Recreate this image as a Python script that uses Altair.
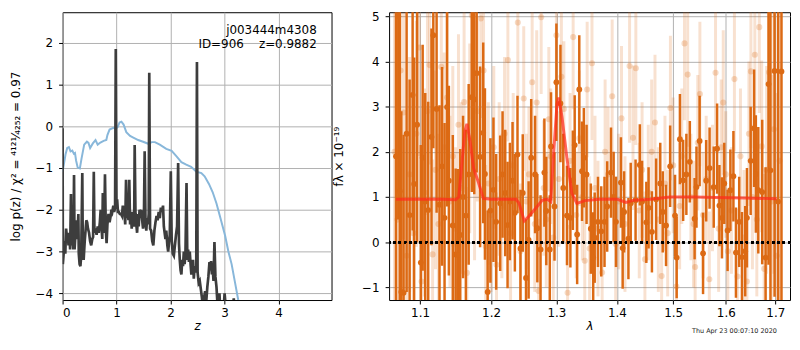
import altair as alt
import pandas as pd

# ---------------- left panel : redshift probability ----------------
z_prior = [0.0, 0.055, 0.086, 0.117, 0.147, 0.18, 0.21, 0.23, 0.25, 0.28, 0.32, 0.35, 0.40, 0.45,
           0.48, 0.51, 0.56, 0.61, 0.65, 0.70, 0.76, 0.81, 0.83, 0.87, 0.94, 0.98, 1.02, 1.055,
           1.09, 1.13, 1.18, 1.25, 1.31, 1.40, 1.49, 1.59, 1.65, 1.71, 1.80, 1.92, 2.02, 2.11,
           2.20, 2.29, 2.38, 2.48, 2.57, 2.63, 2.71, 2.78, 2.85, 2.93, 3.01, 3.07, 3.13, 3.19,
           3.25, 3.30]
lnp_prior = [-1.09, -0.67, -0.52, -0.50, -0.60, -0.58, -0.66, -0.64, -0.82, -0.99, -1.01, -0.78,
             -0.44, -0.37, -0.40, -0.52, -0.41, -0.33, -0.44, -0.39, -0.35, -0.33, -0.21, -0.08,
             -0.04, -0.06, -0.02, 0.09, 0.11, 0.04, -0.14, -0.23, -0.27, -0.33, -0.37, -0.42,
             -0.38, -0.38, -0.44, -0.54, -0.59, -0.72, -0.86, -0.92, -0.97, -1.09, -1.12, -1.20,
             -1.38, -1.58, -1.85, -2.23, -2.62, -3.00, -3.30, -3.72, -4.14, -4.45]

z_pdf = [0.000, 0.005, 0.02, 0.035, 0.05, 0.065, 0.08, 0.095, 0.11, 0.125,
         0.14, 0.155, 0.165, 0.18, 0.20, 0.212, 0.222, 0.235, 0.25, 0.265,
         0.28, 0.292, 0.30, 0.315, 0.33, 0.345, 0.365, 0.375, 0.39, 0.41,
         0.425, 0.44, 0.455, 0.47, 0.49, 0.51, 0.53, 0.55, 0.565, 0.578,
         0.59, 0.61, 0.63, 0.65, 0.67, 0.69, 0.705, 0.72, 0.735, 0.745,
         0.755, 0.77, 0.785, 0.80, 0.815, 0.83, 0.85, 0.87, 0.89, 0.905,
         0.92, 0.94, 0.955, 0.972, 0.985, 0.998, 1.01, 1.025, 1.04, 1.06,
         1.08, 1.10, 1.115, 1.13, 1.145, 1.16, 1.175, 1.19, 1.205, 1.22,
         1.235, 1.25, 1.265, 1.28, 1.295, 1.31, 1.325, 1.335, 1.35, 1.365,
         1.38, 1.395, 1.41, 1.425, 1.44, 1.455, 1.47, 1.49, 1.505, 1.52,
         1.535, 1.55, 1.565, 1.58, 1.595, 1.605, 1.62, 1.64, 1.66, 1.68,
         1.70, 1.72, 1.74, 1.76, 1.78, 1.80, 1.82, 1.84, 1.86, 1.875,
         1.89, 1.905, 1.92, 1.94, 1.955, 1.97, 1.985, 2.004, 2.02, 2.04,
         2.06, 2.08, 2.10, 2.12, 2.14, 2.155, 2.17, 2.185, 2.20, 2.215,
         2.23, 2.245, 2.26, 2.275, 2.295, 2.31, 2.325, 2.34, 2.355, 2.37,
         2.385, 2.40, 2.415, 2.43, 2.445, 2.46, 2.475, 2.488, 2.50, 2.52,
         2.54, 2.56, 2.58, 2.60, 2.62, 2.64, 2.66, 2.68, 2.70, 2.72,
         2.735, 2.75, 2.765, 2.78, 2.795, 2.812, 2.83, 2.85, 2.87, 2.89,
         2.905, 2.92, 2.95, 2.98, 3.00, 3.02, 3.06, 3.10, 3.15, 3.17,
         3.19]
lnp_pdf = [-0.05, -3.30, -3.05, -2.75, -3.05, -2.45, -2.65, -2.55, -2.85, -2.55,
           -2.95, -1.62, -2.85, -2.55, -2.95, -1.17, -2.95, -2.65, -2.25, -2.70,
           -2.50, -2.10, -3.05, -3.30, -3.35, -3.10, -1.12, -3.05, -3.20, -2.75,
           -2.50, -2.25, -2.30, -2.45, -2.55, -2.75, -2.85, -2.70, -2.65, -1.09,
           -2.55, -2.45, -2.60, -2.40, -2.55, -2.30, -2.00, -2.40, -2.70, -1.60,
           -2.45, -2.55, -1.15, -2.45, -2.80, -2.35, -2.10, -2.30, -2.15, -2.00,
           -2.05, -1.90, -2.05, -1.95, 1.85, -1.95, -1.75, -2.05, -2.05, -2.10,
           -2.10, -2.15, -1.90, -2.15, -2.05, -2.35, -1.28, -2.20, -1.95, -2.25,
           -1.28, -2.35, -2.05, -2.45, -2.05, -2.30, -2.40, -0.45, -2.10, -2.35,
           -2.55, -2.10, -2.40, -2.00, -2.15, -2.00, -2.20, -2.45, -2.30, -0.60,
           -2.25, -2.50, -2.20, -2.35, -2.10, 1.28, -2.45, -2.50, -2.75, -2.85,
           -2.50, -2.30, -2.15, -2.25, -2.05, -2.20, -1.95, -2.05, -1.90, -2.40,
           -2.55, -2.70, -2.50, -2.85, -3.00, -2.80, -2.60, -1.08, -2.70, -3.05,
           -3.10, -2.85, -2.60, -2.40, -0.88, -2.80, -3.20, -3.45, -3.55, -3.20,
           -3.35, -3.00, -3.30, -3.05, -1.36, -3.20, -2.95, -3.25, -3.00, -3.30,
           -3.55, -3.45, -3.20, -3.65, -3.35, -3.50, -3.40, 1.54, -3.50, -3.75,
           -3.70, -3.90, -4.10, -4.35, -4.10, -3.95, -4.20, -3.85, -3.60, -3.25,
           -3.45, -3.23, -3.55, -3.40, -3.70, -2.77, -3.60, -3.85, -4.30, -4.50,
           -4.00, -4.40, -4.70, -4.40, -4.00, -4.30, -4.70, -4.50, -4.40, -4.12,
           -4.50]

ann_text = ["j003444m4308", "ID=906\u00a0\u00a0\u00a0\u00a0z=0.9882"]
ann_z = [4.706, 4.706]
ann_v = [2.31, 1.96]

z_ticks = [0, 1, 2, 3, 4]
lnp_ticks = [-4, -3, -2, -1, 0, 1, 2]

# ---------------- right panel : spectrum ----------------
lam_dark = [1.068, 1.071, 1.073, 1.075, 1.078, 1.082, 1.086, 1.090, 1.092, 1.096,
            1.101, 1.1035, 1.107, 1.111, 1.1155, 1.118, 1.1225, 1.1265, 1.130, 1.1335,
            1.137, 1.1395, 1.145, 1.149, 1.152, 1.1555, 1.1595, 1.1635, 1.1675, 1.172,
            1.1755, 1.179, 1.184, 1.1885, 1.191, 1.195, 1.199, 1.2035, 1.2075, 1.2135,
            1.217, 1.221, 1.2245, 1.228, 1.232, 1.2355, 1.2395, 1.244, 1.2475, 1.2525,
            1.2565, 1.2605, 1.2665, 1.270, 1.275, 1.281, 1.284, 1.2895, 1.2915, 1.297,
            1.300, 1.3065, 1.311, 1.317, 1.3225, 1.3265, 1.3295, 1.3335, 1.337, 1.3415,
            1.3445, 1.349, 1.356, 1.360, 1.3625, 1.368, 1.3735, 1.379, 1.3835, 1.390,
            1.3945, 1.3985, 1.407, 1.410, 1.4125, 1.420, 1.424, 1.4325, 1.440, 1.444,
            1.4515, 1.4555, 1.4615, 1.469, 1.4765, 1.481, 1.487, 1.4945, 1.5035, 1.5065,
            1.5125, 1.5185, 1.5245, 1.531, 1.540, 1.5435, 1.5495, 1.556, 1.562, 1.5685,
            1.5765, 1.583, 1.5875, 1.5925, 1.597, 1.6035, 1.609, 1.615, 1.620, 1.6265,
            1.632, 1.6385, 1.642, 1.6495, 1.6565, 1.660, 1.665, 1.673, 1.680, 1.686,
            1.690, 1.6985, 1.706, 1.713]
flux_dark = [1.9, 5.0, 1.13, -1.1, -1.12, 2.4, 0.6, 3.26, 1.29, 2.6,
             -0.45, 1.87, 0.9, 0.71, 2.33, 4.58, 2.95, 0.83, 1.68, 0.54,
             2.99, 1.36, 0.37, -0.27, -0.28, 0.16, 1.0, 0.59, 1.50, 3.21,
             3.16, 3.74, 1.89, 2.42, 1.51, -1.10, 0.7, 1.16, 0.45, 0.86,
             1.5, 1.09, 0.38, 0.9, 1.36, 0.65, 1.94, -0.14, 1.09, -0.79,
             0.05, 1.87, 1.50, 0.31, -0.16, 1.54, 0.69, -0.16, 2.12, 0.79,
             3.54, 3.07, 1.2, 0.59, 0.54, 1.37, 2.15, 0.17, 3.38, 1.57,
             1.87, 1.50, 0.30, -0.34, 0.10, 0.45, 0.24, 0.45, 0.79, 1.54,
             1.00, 0.45, 1.32, -0.13, 0.67, 0.08, 0.86, 0.93, 1.71, 0.90,
             0.44, 0.76, 0.23, 0.95, 1.30, 0.67, 0.37, 1.68, 0.59, -0.34,
             2.28, 1.37, 1.50, 1.78, 0.52, 1.22, 2.24, -0.25, 1.36, 1.64,
             1.22, 2.07, 0.81, 0.54, 1.30, 0.26, 1.15, 1.46, -0.23, 0.45,
             -0.33, -0.20, 0.54, 1.80, 2.52, 1.51, 1.15, 1.11, -0.34, 3.5,
             1.59, 3.79, 0.9, 3.78]
err_dark = [5.0, 4.5, 4.5, 4.0, 3.5, 3.5, 3.0, 3.0, 2.8, 2.6,
            2.6, 2.5, 2.4, 2.4, 2.4, 2.5, 2.3, 2.2, 2.2, 2.1,
            2.2, 2.1, 2.0, 1.9, 1.9, 1.9, 1.8, 1.9, 2.0, 2.1,
            2.1, 2.2, 2.0, 2.0, 1.9, 1.8, 1.6, 1.6, 1.5, 1.5,
            1.4, 1.4, 1.4, 1.3, 1.3, 1.3, 1.3, 1.3, 1.3, 1.3,
            1.3, 1.3, 1.3, 1.2, 1.2, 1.2, 1.2, 1.2, 1.2, 1.2,
            1.3, 1.3, 1.2, 1.1, 1.1, 1.1, 1.1, 1.1, 1.2, 1.1,
            1.1, 1.1, 1.0, 1.0, 1.0, 1.0, 1.0, 1.0, 1.0, 1.0,
            1.0, 1.0, 1.0, 0.9, 0.9, 0.9, 0.9, 0.9, 0.9, 0.9,
            0.9, 0.9, 0.9, 0.9, 0.9, 0.9, 0.9, 0.9, 0.9, 0.9,
            1.0, 0.9, 0.9, 0.9, 0.9, 0.9, 1.0, 0.9, 0.9, 0.9,
            0.9, 1.0, 0.9, 0.9, 0.9, 0.9, 0.9, 1.0, 1.0, 1.0,
            1.0, 1.0, 1.1, 1.2, 1.3, 1.3, 1.4, 1.6, 2.0, 4.0,
            5.0, 5.0, 5.5, 5.5]

lam_light = [1.066, 1.070, 1.074, 1.078, 1.082, 1.086, 1.091, 1.095, 1.099, 1.102,
             1.106, 1.110, 1.113, 1.117, 1.121, 1.125, 1.129, 1.133, 1.137, 1.141,
             1.145, 1.149, 1.153, 1.157, 1.161, 1.165, 1.169, 1.172, 1.176, 1.180,
             1.185, 1.189, 1.192, 1.196, 1.200, 1.204, 1.208, 1.212, 1.216, 1.220,
             1.225, 1.229, 1.233, 1.240, 1.244, 1.249, 1.253, 1.257, 1.262, 1.266,
             1.269, 1.272, 1.276, 1.280, 1.284, 1.288, 1.291, 1.295, 1.300, 1.304,
             1.308, 1.312, 1.318, 1.322, 1.327, 1.332, 1.337, 1.342, 1.346, 1.350,
             1.354, 1.358, 1.363, 1.368, 1.375, 1.380, 1.385, 1.392, 1.398, 1.403,
             1.408, 1.414, 1.422, 1.428, 1.433, 1.439, 1.444, 1.449, 1.455, 1.461,
             1.467, 1.473, 1.479, 1.485, 1.490, 1.495, 1.500, 1.506, 1.512, 1.516,
             1.521, 1.527, 1.533, 1.538, 1.541, 1.546, 1.550, 1.556, 1.562, 1.568,
             1.574, 1.580, 1.586, 1.591, 1.595, 1.600, 1.604, 1.611, 1.617, 1.623,
             1.629, 1.636, 1.642, 1.646, 1.650, 1.653, 1.658, 1.662, 1.667, 1.672,
             1.677, 1.682, 1.687, 1.692, 1.697, 1.703, 1.709]
flux_light = [2.0, 0.5, 3.8, 2.87, -0.3, 1.5, 0.2, 2.4, 4.31, -0.87,
              1.1, 2.9, 3.92, -0.27, 1.6, 0.4, 3.88, 2.1, 3.2, 0.9,
              1.9, 0.3, 2.6, 1.2, 3.1, -0.68, 2.3, 5.02, 1.7, 2.9,
              4.95, 3.8, -0.09, 1.3, 0.6, 2.1, -0.5, 1.4, 0.8, 2.4,
              4.03, 0.2, 1.7, 4.86, -0.2, 3.18, 0.9, 1.5, 3.54, 0.4,
              3.09, -1.08, 4.98, 1.2, 0.5, 2.72, 1.9, 0.1, 4.58, 1.4,
              3.66, 2.95, -1.12, 1.8, 4.54, 0.6, 2.3, 1.0, -0.41, 3.38,
              -0.14, 3.96, 1.2, 0.3, -0.67, 2.0, 1.5, 3.23, -0.04, 0.9,
              2.74, 0.4, 3.9, 2.31, 3.85, 0.7, 1.6, -0.38, 1.1, 2.0,
              2.65, 0.5, -0.75, 1.3, 0.2, 2.97, 1.7, -0.98, 0.8, 1.9,
              4.4, 3.71, 1.0, 0.4, -0.55, 2.2, 3.28, 0.6, 1.4, -0.82,
              1.2, 3.75, 0.3, 2.1, 3.09, 1.5, -0.2, 0.7, 3.61, -0.76,
              1.9, 0.1, -0.87, 2.4, 3.78, 1.0, 4.15, 0.5, 4.76, 2.12,
              -0.59, 1.6, 3.76, 0.9, 2.5, -0.3, 1.8]
err_light = [4.5, 4.0, 3.2, 2.8, 2.6, 2.6, 2.5, 2.5, 2.4, 2.3,
             2.3, 2.3, 2.2, 2.1, 2.2, 2.0, 2.2, 2.1, 2.2, 1.9,
             2.0, 1.8, 2.0, 1.9, 2.0, 1.9, 2.1, 2.3, 2.1, 2.0,
             2.2, 2.1, 1.8, 1.8, 1.7, 1.8, 1.6, 1.7, 1.6, 1.7,
             1.8, 1.6, 1.6, 1.7, 1.5, 1.6, 1.5, 1.5, 1.6, 1.5,
             1.6, 1.6, 1.7, 1.5, 1.5, 1.6, 1.5, 1.4, 1.6, 1.5,
             1.6, 1.5, 1.5, 1.5, 1.6, 1.4, 1.5, 1.4, 1.4, 1.5,
             1.6, 1.7, 1.6, 1.5, 1.6, 1.6, 1.5, 1.7, 1.5, 1.5,
             1.6, 1.5, 1.7, 1.6, 1.7, 1.5, 1.5, 1.5, 1.5, 1.6,
             1.5, 1.6, 1.5, 1.5, 1.4, 1.6, 1.5, 1.5, 1.4, 1.5,
             1.7, 1.6, 1.4, 1.4, 1.5, 1.5, 1.6, 1.4, 1.4, 1.5,
             1.4, 1.6, 1.4, 1.5, 1.6, 1.4, 1.4, 1.4, 1.6, 1.5,
             1.5, 1.5, 1.6, 1.6, 1.7, 1.6, 1.8, 1.7, 1.9, 1.9,
             2.1, 2.3, 2.5, 2.8, 3.2, 3.6, 4.2]

lam_model = [1.068, 1.100, 1.130, 1.149, 1.1535, 1.158, 1.162, 1.165, 1.1697, 1.1745,
             1.1816, 1.1887, 1.20, 1.22, 1.2374, 1.2419, 1.2498, 1.2573, 1.2675, 1.2778,
             1.2856, 1.291, 1.2958, 1.301, 1.3037, 1.309, 1.317, 1.3249, 1.333, 1.3463,
             1.37, 1.4012, 1.4157, 1.43, 1.459, 1.494, 1.54, 1.58, 1.64, 1.703]
flux_model = [0.95, 0.95, 0.95, 0.94, 1.0, 1.78, 2.45, 2.62, 2.21, 1.64,
              1.32, 0.97, 0.95, 0.95, 0.95, 0.86, 0.47, 0.58, 0.75, 0.93,
              0.95, 0.90, 2.0, 3.06, 3.20, 2.77, 1.85, 1.08, 0.86, 0.92,
              0.95, 0.95, 0.88, 0.93, 0.95, 1.0, 1.0, 0.99, 0.98, 0.96]

lam_ticks = [1.1, 1.2, 1.3, 1.4, 1.5, 1.6, 1.7]
flux_ticks = [-1, 0, 1, 2, 3, 4, 5]
stamp = "Thu Apr 23 00:07:10 2020"

FONT = "DejaVu Sans"
ORANGE = "#dc6a14"
W_L, W_R, H = 271, 404, 290

# ---------------- left panel ----------------
xs_z = alt.Scale(domain=[0, 4.98], nice=False, zero=False)
ys_p = alt.Scale(domain=[-4.16, 2.73], nice=False, zero=False)
x_z = alt.X("z:Q", scale=xs_z,
            axis=alt.Axis(values=z_ticks, format="d", title="z", titleFontStyle="italic"))
y_p = alt.Y("v:Q", scale=ys_p,
            axis=alt.Axis(values=lnp_ticks, format="d", labelPadding=6,
                          title="log p(z) / χ² = ⁴¹²¹⁄₄₂₅₂ = 0.97", titlePadding=13))

prior_df = pd.DataFrame({"z": z_prior, "v": lnp_prior})
pdf_df = pd.DataFrame({"z": z_pdf, "v": lnp_pdf})
ann_df = pd.DataFrame({"z": ann_z, "v": ann_v, "t": ann_text})

prior_line = alt.Chart(prior_df).mark_line(color="#88b7da", strokeWidth=2, clip=True).encode(x=x_z, y=y_p)
pdf_line = alt.Chart(pdf_df).mark_line(color="#3d3d3d", strokeWidth=2.7, clip=True).encode(x=x_z, y=y_p)
ann = alt.Chart(ann_df).mark_text(align="right", baseline="middle", font=FONT, fontSize=12,
                                  color="black").encode(x=x_z, y=y_p, text="t:N")

left = alt.layer(prior_line, pdf_line, ann).properties(width=W_L, height=H)

# ---------------- right panel ----------------
xs_l = alt.Scale(type="log", domain=[1.059, 1.731], nice=False, zero=False)
ys_f = alt.Scale(domain=[-1.28, 5.09], nice=False, zero=False)
x_l = alt.X("lam:Q", scale=xs_l,
            axis=alt.Axis(values=lam_ticks, format=".1f", title="λ", titleFontStyle="italic"))


def flux_axis():
    return alt.Axis(values=flux_ticks, format="d", labelPadding=6,
                    title="fλ × 10⁻¹⁹", titlePadding=16)


y_f = alt.Y("f:Q", scale=ys_f, axis=flux_axis())
y_lo = alt.Y("lo:Q", scale=ys_f, axis=flux_axis())

dark_df = pd.DataFrame({"lam": lam_dark, "f": flux_dark, "e": err_dark})
dark_df["lo"] = dark_df["f"] - dark_df["e"]
dark_df["hi"] = dark_df["f"] + dark_df["e"]
light_df = pd.DataFrame({"lam": lam_light, "f": flux_light, "e": err_light})
light_df["lo"] = light_df["f"] - light_df["e"]
light_df["hi"] = light_df["f"] + light_df["e"]
model_df = pd.DataFrame({"lam": lam_model, "f": flux_model})

light_bars = alt.Chart(light_df).mark_rule(color=ORANGE, opacity=0.2, strokeWidth=3, clip=True).encode(
    x=x_l, y=y_lo, y2="hi:Q")
light_pts = alt.Chart(light_df).mark_circle(color=ORANGE, opacity=0.25, size=38, clip=True).encode(x=x_l, y=y_f)
dark_bars = alt.Chart(dark_df).mark_rule(color=ORANGE, strokeWidth=2.5, clip=True).encode(
    x=x_l, y=y_lo, y2="hi:Q")
dark_pts = alt.Chart(dark_df).mark_circle(color=ORANGE, opacity=1, size=34, clip=True).encode(x=x_l, y=y_f)
model_line = alt.Chart(model_df).mark_line(color="#ff2b1c", opacity=0.72, strokeWidth=3, clip=True).encode(x=x_l, y=y_f)
zero_line = alt.Chart(model_df).mark_rule(color="black", strokeWidth=2, strokeDash=[2, 3.3]).encode(y=alt.datum(0))
stamp_txt = alt.Chart(pd.DataFrame({"t": [stamp]})).mark_text(
    font=FONT, fontSize=6.5, color="#222222", align="center", baseline="middle").encode(
    x=alt.value(348), y=alt.value(H + 31), text="t:N")

right = alt.layer(light_bars, light_pts, dark_bars, dark_pts, model_line, zero_line, stamp_txt).properties(
    width=W_R, height=H)

chart = alt.hconcat(left, right, spacing=58, bounds="flush").properties(
    padding={"left": 0, "top": 0, "right": 0, "bottom": 0}
).configure_view(stroke="black", strokeWidth=1).configure_axis(
    grid=True, gridColor="#b0b0b0", gridWidth=1, domain=False,
    tickColor="black", tickSize=4, tickWidth=1,
    labelFont=FONT, labelFontSize=12, labelColor="black", labelPadding=4,
    titleFont=FONT, titleFontSize=12, titleColor="black", titleFontWeight="normal",
    titlePadding=2,
)

chart.save("out.html", embed_options={"renderer": "svg", "actions": False})
